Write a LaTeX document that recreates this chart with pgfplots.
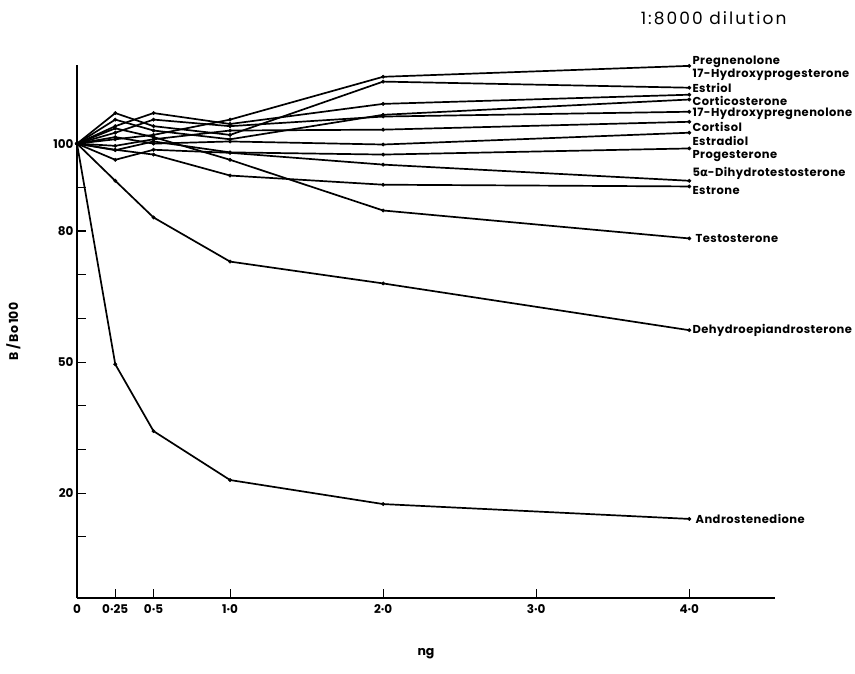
\documentclass[border=0pt]{standalone}
\usepackage{fontspec}
\setmainfont{Poppins}
\newfontfamily\dejavu{DejaVu Sans}
\usepackage{pgfplots}
\pgfplotsset{compat=1.18}

% curve data: x (ng) and B/Bo*100
\pgfplotstableread{
x y
0 100
0.25 101
0.5 102
1.0 105.5
2.0 115.3
4.0 117.8
}\preg
\pgfplotstableread{
x y
0 100
0.25 107
0.5 104
1.0 102
2.0 114.2
4.0 112.8
}\ohprog
\pgfplotstableread{
x y
0 100
0.25 104
0.5 107
1.0 104.5
2.0 109.1
4.0 111.2
}\estriol
\pgfplotstableread{
x y
0 100
0.25 105.5
0.5 103
1.0 101
2.0 106.6
4.0 110.1
}\cortico
\pgfplotstableread{
x y
0 100
0.25 102.5
0.5 105.5
1.0 104
2.0 106.2
4.0 107.3
}\ohpreg
\pgfplotstableread{
x y
0 100
0.25 99.5
0.5 101
1.0 103
2.0 103.2
4.0 105.0
}\cortisol
\pgfplotstableread{
x y
0 100
0.25 101.5
0.5 100
1.0 100.5
2.0 99.8
4.0 102.5
}\estradiol
\pgfplotstableread{
x y
0 100
0.25 98.5
0.5 100.5
1.0 98.0
2.0 97.5
4.0 98.9
}\progest
\pgfplotstableread{
x y
0 100
0.25 96.3
0.5 98.6
1.0 97.9
2.0 95.2
4.0 91.5
}\dht
\pgfplotstableread{
x y
0 100
0.25 98.6
0.5 97.5
1.0 92.7
2.0 90.6
4.0 90.2
}\estrone
\pgfplotstableread{
x y
0 100
0.25 103.5
0.5 101.5
1.0 96.3
2.0 84.7
4.0 78.3
}\testo
\pgfplotstableread{
x y
0 100
0.25 91.5
0.5 83.1
1.0 73
2.0 68
4.0 57.3
}\dhea
\pgfplotstableread{
x y
0 100
0.25 49.5
0.5 34.2
1.0 23
2.0 17.5
4.0 14.1
}\andro

\begin{document}
\begin{tikzpicture}
\begin{axis}[
    width=698pt, height=533pt,
    scale only axis,
    xmin=0, xmax=4.56,
    ymin=-4, ymax=118,
    axis lines=left,
    axis line style={-, line width=1.6pt},
    tick align=inside,
    major tick length=9pt,
    tick style={line width=1.1pt, black},
    xtick={0,0.25,0.5,1,2,3,4},
    xticklabels={0,0·25,0·5,1·0,2·0,3·0,4·0},
    ytick={10,20,...,100},
    yticklabels={,20,,,50,,,80,,100},
    tick label style={font=\fontsize{12}{13}\selectfont\bfseries},
    xticklabel style={yshift=-3pt},
    /pgf/number format/assume math mode=true,
    xlabel={ng},
    ylabel={B\,/\,Bo\,100},
    xlabel style={font=\fontsize{12.5}{13}\selectfont\bfseries, yshift=-28pt},
    ylabel style={font=\fontsize{12.5}{13}\selectfont\bfseries, yshift=26pt},
    curve/.style={black, solid, line width=1.7pt, mark=*, mark size=1.7pt,
        mark options={solid, fill=black, line width=0.5pt}},
    clip=false,
]
\addplot[curve] table {\preg};
\addplot[curve] table {\ohprog};
\addplot[curve] table {\estriol};
\addplot[curve] table {\cortico};
\addplot[curve] table {\ohpreg};
\addplot[curve] table {\cortisol};
\addplot[curve] table {\estradiol};
\addplot[curve] table {\progest};
\addplot[curve] table {\dht};
\addplot[curve] table {\estrone};
\addplot[curve] table {\testo};
\addplot[curve] table {\dhea};
\addplot[curve] table {\andro};

\begin{scope}[every node/.style={anchor=west, inner sep=0pt, font=\fontsize{11.5}{11.5}\selectfont\bfseries\addfontfeature{LetterSpace=4}}]
\node at (axis cs:4.02,118.7) {Pregnenolone};
\node at (axis cs:4.02,115.8) {17-Hydroxyprogesterone};
\node at (axis cs:4.02,112.8) {Estriol};
\node at (axis cs:4.02,109.8) {Corticosterone};
\node at (axis cs:4.02,106.9) {17-Hydroxypregnenolone};
\node at (axis cs:4.02,103.9) {Cortisol};
\node at (axis cs:4.02,100.6) {Estradiol};
\node at (axis cs:4.02,97.2) {Progesterone};
\node at (axis cs:4.02,93.1) {5{\dejavu\bfseries α}-Dihydrotestosterone};
\node at (axis cs:4.02,89.2) {Estrone};
\node at (axis cs:4.04,78.3) {Testosterone};
\node at (axis cs:4.02,57.3) {Dehydroepiandrosterone};
\node at (axis cs:4.04,14.1) {Androstenedione};
\end{scope}
\node[anchor=west, font=\fontsize{17}{18}\selectfont\addfontfeature{LetterSpace=12}] at (axis cs:3.66,128.8) {1:8000 dilution};
% page margins as in the reference
\path (rel axis cs:0,1) ++(-77pt,65pt) coordinate (tl);
\path (rel axis cs:0,0) ++(-77pt,-75pt) coordinate (bl);
\path (rel axis cs:0,0) ++(778pt,-75pt) coordinate (br);
\path (tl) -- (bl) -- (br);
\end{axis}
\end{tikzpicture}
\end{document}
